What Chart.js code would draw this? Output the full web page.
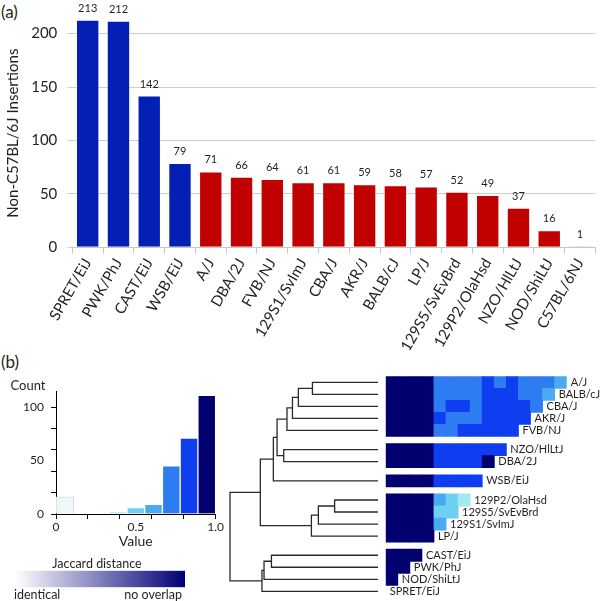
<!DOCTYPE html>
<html>
<head>
<meta charset="utf-8">
<script src="https://cdn.jsdelivr.net/npm/chart.js@4/dist/chart.umd.min.js"></script>
<style>
  body { margin: 0; background: #fff; }
  #wrap { position: relative; width: 600px; height: 601px; overflow: hidden; font-family: Lato, sans-serif; color: #231f20; }
  canvas { position: absolute; }
  .panel { position: absolute; font-size: 17px; }
</style>
</head>
<body>
<div id="wrap">
  <div class="panel" style="left:1px;top:1px">(a)</div>
  <div class="panel" style="left:1px;top:351px">(b)</div>
  <canvas id="bars" width="600" height="350" style="left:0;top:0"></canvas>
  <canvas id="hist" width="225" height="175" style="left:0;top:375px"></canvas>
  <canvas id="key" width="200" height="46" style="left:0;top:555px"></canvas>
  <canvas id="tree" width="160" height="230" style="left:222px;top:370px"></canvas>
  <canvas id="heat" width="220" height="230" style="left:380px;top:370px"></canvas>
</div>
<script>
/* (a) insertions per strain */
const strains = ['SPRET/EiJ', 'PWK/PhJ', 'CAST/EiJ', 'WSB/EiJ', 'A/J', 'DBA/2J', 'FVB/NJ', '129S1/SvImJ',
  'CBA/J', 'AKR/J', 'BALB/cJ', 'LP/J', '129S5/SvEvBrd', '129P2/OlaHsd', 'NZO/HlLtJ', 'NOD/ShiLtJ', 'C57BL/6NJ'];
const insertions = [213, 212, 142, 79, 71, 66, 64, 61, 61, 59, 58, 57, 52, 49, 37, 16, 1];
const wildDerived = ['SPRET/EiJ', 'PWK/PhJ', 'CAST/EiJ', 'WSB/EiJ'];
const yTickStep = 50;

/* (b) histogram of jaccard distances, 9 bins on 0..1 */
const binCounts = [16, 0, 0, 2, 6, 9, 45, 71, 111];
const histYTicks = [0, 20, 40, 50, 60, 80, 100];
const histYLabels = [0, 50, 100];
const histXTicks = [0, 0.2, 0.4, 0.5, 0.6, 0.8, 1];
const histXLabels = { 0: '0', 0.5: '0.5', 1: '1.0' };

/* (b) heatmap rows (top to bottom) and groups as drawn */
const heatRows = ['A/J', 'BALB/cJ', 'CBA/J', 'AKR/J', 'FVB/NJ', 'NZO/HlLtJ', 'DBA/2J', 'WSB/EiJ',
  '129P2/OlaHsd', '129S5/SvEvBrd', '129S1/SvImJ', 'LP/J', 'CAST/EiJ', 'PWK/PhJ', 'NOD/ShiLtJ', 'SPRET/EiJ'];
const rowGroups = [5, 2, 1, 4, 4];
// columns run SPRET, NOD, PWK, CAST, LP, 129S1, 129S5, 129P2, WSB, DBA, NZO, FVB, AKR, CBA, BALB
const jaccard = [
  [0.97, 0.96, 0.96, 0.95, 0.72, 0.73, 0.71, 0.72, 0.81, 0.74, 0.80, 0.73, 0.72, 0.70, 0.62],
  [0.97, 0.96, 0.96, 0.95, 0.73, 0.72, 0.72, 0.73, 0.81, 0.80, 0.80, 0.74, 0.73, 0.61],
  [0.97, 0.96, 0.96, 0.95, 0.73, 0.80, 0.81, 0.74, 0.81, 0.80, 0.80, 0.79, 0.74],
  [0.97, 0.96, 0.96, 0.95, 0.80, 0.73, 0.72, 0.74, 0.81, 0.80, 0.79, 0.80],
  [0.97, 0.96, 0.96, 0.95, 0.73, 0.74, 0.81, 0.81, 0.80, 0.80, 0.79],
  [0.97, 0.96, 0.96, 0.95, 0.81, 0.81, 0.80, 0.81, 0.84, 0.82],
  [0.97, 0.96, 0.96, 0.95, 0.81, 0.82, 0.81, 0.82, 0.93],
  [0.97, 0.96, 0.96, 0.95, 0.82, 0.82, 0.81, 0.82],
  [0.97, 0.96, 0.96, 0.95, 0.60, 0.52, 0.42],
  [0.97, 0.96, 0.96, 0.95, 0.50, 0.51],
  [0.97, 0.96, 0.96, 0.95, 0.61],
  [0.97, 0.96, 0.96, 0.95],
  [0.95, 0.94, 0.93],
  [0.94, 0.93],
  [0.93],
  []
];

/* dendrogram merges: [child, child, height]; numbers point to earlier merges */
const merges = [
  ['A/J', 'BALB/cJ', 0.443],
  [0, 'CBA/J', 0.538],
  [1, 'AKR/J', 0.578],
  [2, 'FVB/NJ', 0.615],
  ['NZO/HlLtJ', 'DBA/2J', 0.637],
  [3, 4, 0.682],
  [5, 'WSB/EiJ', 0.707],
  ['129P2/OlaHsd', '129S5/SvEvBrd', 0.293],
  [7, '129S1/SvImJ', 0.403],
  [8, 'LP/J', 0.45],
  [6, 9, 0.795],
  ['CAST/EiJ', 'PWK/PhJ', 0.72],
  [11, 'NOD/ShiLtJ', 0.77],
  [12, 'SPRET/EiJ', 0.784],
  [10, 13, 1.0]
];

const keyRange = [0, 1];

const ink = '#231f20';
const font = 'Lato';
const binColors = ['#eff7fa', '#d9f3f6', '#c4eff3', '#a4e8f0', '#6dd0f2', '#48aaf0', '#2e7cf2', '#0f3ef0', '#00006e'];
const GROUP_GAP = 0.6;

function distColor(v) {
  return binColors[Math.min(binColors.length - 1, Math.floor(v * binColors.length))];
}

// row positions with a small gap between groups
let rowPos = [];
let g = 0, inGroup = 0;
heatRows.forEach((name, i) => {
  rowPos.push(i + g * GROUP_GAP);
  inGroup++;
  if (inGroup == rowGroups[g]) { g++; inGroup = 0; }
});
const posOf = name => rowPos[heatRows.indexOf(name)];

/* ---------- (a) bar chart ---------- */
const valueLabels = {
  id: 'valueLabels',
  afterDatasetsDraw(chart) {
    let ctx = chart.ctx;
    ctx.save();
    ctx.font = `11px ${font}`;
    ctx.fillStyle = ink;
    ctx.textAlign = 'center';
    ctx.textBaseline = 'bottom';
    chart.getDatasetMeta(0).data.forEach((bar, i) => {
      ctx.fillText(insertions[i], bar.x, bar.y - 6);
    });
    ctx.restore();
  }
};

new Chart(document.getElementById('bars'), {
  type: 'bar',
  data: {
    labels: strains,
    datasets: [{
      data: insertions,
      backgroundColor: strains.map(s => wildDerived.includes(s) ? '#0420b4' : '#c10000'),
      borderColor: 'rgba(255,255,255,0.3)',
      borderWidth: 1,
      barPercentage: 0.76,
      categoryPercentage: 1
    }]
  },
  options: {
    responsive: false,
    animation: false,
    layout: { padding: { top: 7.7, right: 4.6, left: 0, bottom: 0 } },
    plugins: { legend: { display: false }, tooltip: { enabled: false } },
    scales: {
      x: {
        grid: { drawOnChartArea: false, offset: true, tickLength: 6, color: '#c8c8c8' },
        border: { color: '#c8c8c8' },
        ticks: { color: ink, font: { family: font, size: 15 }, minRotation: 60, maxRotation: 60, autoSkip: false, padding: 2 },
        afterFit: s => { s.height = 102.7; }
      },
      y: {
        min: 0,
        max: 213.7,
        ticks: { stepSize: yTickStep, includeBounds: false, color: ink, font: { family: font, size: 15 }, padding: 10 },
        grid: { color: '#cdcdcd', tickLength: 5 },
        border: { display: false },
        title: { display: true, text: 'Non-C57BL/6J Insertions', color: ink, font: { family: font, size: 15 }, padding: { top: 4, bottom: 0 } },
        afterFit: s => { s.width = 72.3; }
      }
    }
  },
  plugins: [valueLabels]
});

/* ---------- (b) histogram ---------- */
const countTitle = {
  id: 'countTitle',
  afterDraw(chart) {
    let ctx = chart.ctx;
    ctx.save();
    ctx.font = `13px ${font}`;
    ctx.fillStyle = ink;
    ctx.textAlign = 'center';
    ctx.textBaseline = 'middle';
    ctx.fillText('Count', 28, 11);
    ctx.restore();
  }
};

new Chart(document.getElementById('hist'), {
  type: 'bar',
  data: {
    labels: binCounts.map((c, i) => i),
    datasets: [{
      data: binCounts,
      backgroundColor: binColors,
      borderColor: binCounts.map((c, i) => i == 0 ? '#d3dcdc' : 'rgba(0,0,0,0)'),
      borderWidth: 1,
      borderSkipped: 'bottom',
      barPercentage: 1,
      categoryPercentage: 1
    }]
  },
  options: {
    responsive: false,
    animation: false,
    layout: { padding: { top: 16, right: 9.3, left: 0, bottom: 0 } },
    plugins: { legend: { display: false }, tooltip: { enabled: false } },
    scales: {
      x: { display: false },
      xv: {
        type: 'linear',
        position: 'bottom',
        offset: false,
        min: 0,
        max: 1,
        afterBuildTicks: s => { s.ticks = histXTicks.map(v => ({ value: v })); },
        ticks: {
          autoSkip: false, maxRotation: 0, color: ink, padding: 1,
          font: { family: font, size: 12 },
          callback: v => histXLabels[v] || ''
        },
        grid: {
          offset: false, drawOnChartArea: false, tickLength: 5,
          tickColor: c => c.tick && c.tick.value == 0.5 ? 'rgba(0,0,0,0)' : '#000'
        },
        border: { color: '#000' },
        title: { display: true, text: 'Value', color: ink, font: { family: font, size: 14 }, padding: 0 },
        afterFit: s => { s.height = 36; }
      },
      y: {
        min: 0,
        max: 115,
        z: 1,
        afterBuildTicks: s => { s.ticks = histYTicks.map(v => ({ value: v })); },
        ticks: {
          autoSkip: false, color: ink, padding: 7,
          font: { family: font, size: 12 },
          callback: v => histYLabels.includes(v) ? String(v) : ''
        },
        grid: {
          tickLength: 5,
          color: c => c.tick && c.tick.value > 0 && c.tick.value % 20 == 0 ? 'rgba(255,255,255,0.55)' : 'rgba(0,0,0,0)',
          tickColor: c => c.tick && c.tick.value % 20 == 0 ? '#000' : 'rgba(0,0,0,0)'
        },
        border: { color: '#000' },
        afterFit: s => { s.width = 56; }
      }
    }
  },
  plugins: [countTitle]
});

/* ---------- (b) colour key ---------- */
const keyText = {
  id: 'keyText',
  afterDraw(chart) {
    let ctx = chart.ctx, a = chart.chartArea;
    ctx.save();
    ctx.font = `12.5px ${font}`;
    ctx.fillStyle = ink;
    ctx.textBaseline = 'middle';
    ctx.textAlign = 'center';
    ctx.fillText('Jaccard distance', (a.left + a.right) / 2 - 3, a.top - 7);
    ctx.textAlign = 'left';
    ctx.fillText('identical', a.left - 1, a.bottom + 8);
    ctx.textAlign = 'right';
    ctx.fillText('no overlap', a.right - 3, a.bottom + 8);
    ctx.restore();
  }
};

new Chart(document.getElementById('key'), {
  type: 'bar',
  data: {
    labels: ['Jaccard distance'],
    datasets: [{
      data: [keyRange],
      backgroundColor: c => {
        let area = c.chart.chartArea;
        if (!area) return '#00007a';
        let grad = c.chart.ctx.createLinearGradient(area.left, 0, area.right, 0);
        grad.addColorStop(0, '#ffffff');
        grad.addColorStop(1, '#000078');
        return grad;
      },
      borderWidth: 0,
      barPercentage: 1,
      categoryPercentage: 1
    }]
  },
  options: {
    indexAxis: 'y',
    responsive: false,
    animation: false,
    layout: { padding: { top: 15.7, right: 15, left: 15, bottom: 13.7 } },
    plugins: { legend: { display: false }, tooltip: { enabled: false } },
    scales: { x: { display: false, min: keyRange[0], max: keyRange[1] }, y: { display: false } }
  },
  plugins: [keyText]
});

/* ---------- (b) dendrogram ---------- */
let nodes = [];
function nodeOf(ref) {
  if (typeof ref == 'number') return nodes[ref];
  return { h: 0, y: posOf(ref) };
}
let treeSets = [];
merges.forEach(([a, b, h]) => {
  let na = nodeOf(a), nb = nodeOf(b);
  nodes.push({ h: h, y: (na.y + nb.y) / 2 });
  treeSets.push({
    data: [{ x: na.h, y: na.y }, { x: h, y: na.y }, { x: h, y: nb.y }, { x: nb.h, y: nb.y }],
    showLine: true,
    borderColor: '#2a2a2a',
    borderWidth: 1.3,
    pointRadius: 0,
    clip: false
  });
});

const rowMin = -0.5;
const rowMax = rowPos[rowPos.length - 1] + 0.5;

new Chart(document.getElementById('tree'), {
  type: 'scatter',
  data: { datasets: treeSets },
  options: {
    responsive: false,
    animation: false,
    layout: { padding: { top: 6.3, right: 4, left: 8, bottom: 2.7 } },
    plugins: { legend: { display: false }, tooltip: { enabled: false } },
    scales: {
      x: { display: false, reverse: true, min: 0, max: 1 },
      y: { display: false, reverse: true, min: rowMin, max: rowMax }
    }
  }
});

/* ---------- (b) heatmap ---------- */
let cells = [];
jaccard.forEach((row, i) => {
  row.forEach((v, j) => cells.push({ y: rowPos[i], x: [j, j + 1], v: v }));
});

const rowLabels = {
  id: 'rowLabels',
  afterDatasetsDraw(chart) {
    let ctx = chart.ctx, xs = chart.scales.x, ys = chart.scales.y;
    ctx.save();
    ctx.font = `11px ${font}`;
    ctx.fillStyle = ink;
    ctx.textAlign = 'left';
    ctx.textBaseline = 'middle';
    heatRows.forEach((name, i) => {
      ctx.fillText(name, xs.getPixelForValue(jaccard[i].length) + 4, ys.getPixelForValue(rowPos[i]));
    });
    ctx.restore();
  }
};

new Chart(document.getElementById('heat'), {
  type: 'bar',
  data: {
    datasets: [{
      data: cells,
      backgroundColor: c => c.raw ? distColor(c.raw.v) : '#000',
      borderWidth: 0,
      barPercentage: 1,
      categoryPercentage: 1,
      inflateAmount: 0.4
    }]
  },
  options: {
    indexAxis: 'y',
    responsive: false,
    animation: false,
    layout: { padding: { top: 6.3, right: 33.3, left: 5.7, bottom: 2.7 } },
    plugins: { legend: { display: false }, tooltip: { enabled: false } },
    scales: {
      x: { type: 'linear', display: false, min: 0, max: heatRows.length - 1 },
      y: {
        type: 'linear', display: false, reverse: true, min: rowMin, max: rowMax,
        afterBuildTicks: s => { s.ticks = []; }
      }
    }
  },
  plugins: [rowLabels]
});
</script>
</body>
</html>
